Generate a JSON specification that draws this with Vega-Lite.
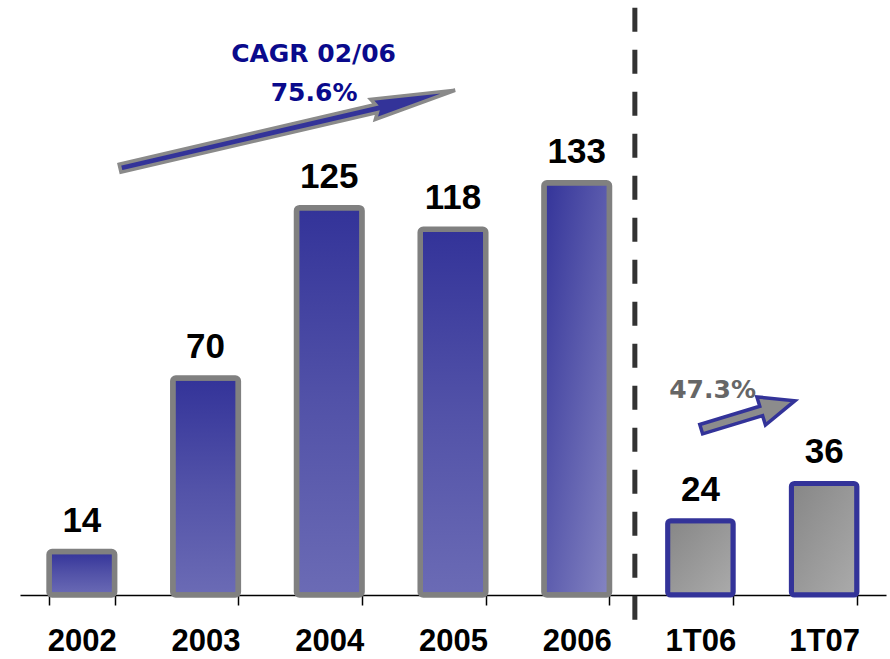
{
  "$schema": "https://vega.github.io/schema/vega-lite/v6.json",
  "width": 866,
  "height": 595,
  "autosize": "none",
  "padding": {"left": 20, "top": 0, "right": 4, "bottom": 64},
  "background": "#ffffff",
  "config": {"view": {"stroke": null}},
  "datasets": {
    "bars": [
      {"period": "2002", "value": 14, "kind": "year"},
      {"period": "2003", "value": 70, "kind": "year"},
      {"period": "2004", "value": 125, "kind": "year"},
      {"period": "2005", "value": 118, "kind": "year"},
      {"period": "2006", "value": 133, "kind": "last"},
      {"period": "1T06", "value": 24, "kind": "quarter"},
      {"period": "1T07", "value": 36, "kind": "quarter"}
    ],
    "divider": [{"pos": 4.97, "low": -8, "high": 190}],
    "arrows": [
      {"name": "cagr", "x": 2.163, "y": 150.3},
      {"name": "q", "x": 5.885, "y": 58.1}
    ],
    "notes": [
      {"label": "CAGR 02/06", "x": 2.373, "y": 171.9, "kind": "cagr"},
      {"label": "75.6%", "x": 2.377, "y": 159.4, "kind": "cagr"},
      {"label": "47.3%", "x": 5.598, "y": 63.5, "kind": "q"}
    ]
  },
  "layer": [
    {
      "layer": [
        {
          "data": {"name": "bars"},
          "transform": [{"filter": "datum.kind == 'year'"}],
          "mark": {
            "type": "bar",
            "cornerRadius": 3,
            "stroke": "#808080",
            "strokeWidth": 5.5,
            "fill": {"gradient": "linear", "x1": 0, "y1": 0, "x2": 0, "y2": 1,
              "stops": [{"offset": 0, "color": "#333399"}, {"offset": 0.5, "color": "#5252a8"}, {"offset": 1, "color": "#6b6bb5"}]}
          },
          "encoding": {
            "x": {"field": "period", "type": "nominal", "sort": null,
              "scale": {"type": "band", "domain": ["2002", "2003", "2004", "2005", "2006", "1T06", "1T07"], "paddingInner": 0.47, "paddingOuter": 0.235},
              "axis": {"title": null, "orient": "bottom", "labelAngle": 0, "tickBand": "extent", "grid": false,
                "domainColor": "#000000", "domainWidth": 1.5, "tickColor": "#000000", "tickWidth": 1.5, "tickSize": 10,
                "labelFont": "Liberation Sans", "labelFontSize": 31, "labelFontWeight": "bold", "labelColor": "#000000",
                "labelBaseline": "alphabetic", "labelPadding": 45}},
            "y": {"field": "value", "type": "quantitative", "scale": {"domain": [0, 192], "nice": false, "zero": true}, "axis": null}
          }
        },
        {
          "data": {"name": "bars"},
          "transform": [{"filter": "datum.kind == 'last'"}],
          "mark": {
            "type": "bar",
            "cornerRadius": 3,
            "stroke": "#808080",
            "strokeWidth": 5.5,
            "fill": {"gradient": "linear", "x1": 0, "y1": 0, "x2": 1, "y2": 1,
              "stops": [{"offset": 0, "color": "#333399"}, {"offset": 1, "color": "#8585c2"}]}
          },
          "encoding": {
            "x": {"field": "period", "type": "nominal", "sort": null},
            "y": {"field": "value", "type": "quantitative"}
          }
        },
        {
          "data": {"name": "bars"},
          "transform": [{"filter": "datum.kind == 'quarter'"}],
          "mark": {
            "type": "bar",
            "cornerRadius": 3,
            "stroke": "#333399",
            "strokeWidth": 5,
            "fill": {"gradient": "linear", "x1": 0, "y1": 0, "x2": 1, "y2": 1,
              "stops": [{"offset": 0, "color": "#868686"}, {"offset": 1, "color": "#ababab"}]}
          },
          "encoding": {
            "x": {"field": "period", "type": "nominal", "sort": null},
            "y": {"field": "value", "type": "quantitative"}
          }
        },
        {
          "data": {"name": "bars"},
          "mark": {"type": "text", "font": "Liberation Sans", "fontSize": 35, "fontWeight": "bold", "color": "#000000", "baseline": "alphabetic", "align": "center", "dy": -20},
          "encoding": {
            "x": {"field": "period", "type": "nominal", "sort": null},
            "y": {"field": "value", "type": "quantitative"},
            "text": {"field": "value", "type": "quantitative"}
          }
        }
      ]
    },
    {
      "layer": [
        {
          "data": {"name": "divider"},
          "mark": {"type": "rule", "color": "#333333", "strokeWidth": 5, "strokeDash": [24, 18]},
          "encoding": {
            "x": {"field": "pos", "type": "quantitative", "scale": {"domain": [0, 7], "nice": false, "zero": false}, "axis": null},
            "y": {"field": "low", "type": "quantitative"},
            "y2": {"field": "high"}
          }
        },
        {
          "data": {"name": "arrows"},
          "transform": [{"filter": "datum.name == 'cagr'"}],
          "mark": {"type": "point", "filled": true, "opacity": 1, "fill": "#333399", "stroke": "#8a8a8a", "strokeWidth": 3.5, "strokeJoin": "miter", "size": 118336, "angle": 346.9,
            "shape": "M -1 -0.024 L 0.53 -0.024 L 0.51 -0.06 L 1 0 L 0.51 0.06 L 0.53 0.024 L -1 0.024 Z"},
          "encoding": {
            "x": {"field": "x", "type": "quantitative", "axis": null},
            "y": {"field": "y", "type": "quantitative"}
          }
        },
        {
          "data": {"name": "arrows"},
          "transform": [{"filter": "datum.name == 'q'"}],
          "mark": {"type": "point", "filled": true, "opacity": 1, "fill": "#8c8c8c", "stroke": "#333399", "strokeWidth": 3.5, "size": 9600, "angle": 343.1,
            "shape": "M -1 -0.1 L 0.28 -0.1 L 0.28 -0.3 L 1 0 L 0.28 0.3 L 0.28 0.1 L -1 0.1 Z"},
          "encoding": {
            "x": {"field": "x", "type": "quantitative", "axis": null},
            "y": {"field": "y", "type": "quantitative"}
          }
        },
        {
          "data": {"name": "notes"},
          "mark": {"type": "text", "font": "DejaVu Sans", "fontSize": 25, "fontWeight": "bold", "baseline": "alphabetic", "align": "center"},
          "encoding": {
            "x": {"field": "x", "type": "quantitative", "axis": null},
            "y": {"field": "y", "type": "quantitative"},
            "text": {"field": "label", "type": "nominal"},
            "color": {"field": "kind", "type": "nominal", "scale": {"domain": ["cagr", "q"], "range": ["#0a0a8c", "#666666"]}, "legend": null}
          }
        }
      ]
    }
  ],
  "resolve": {"scale": {"x": "independent"}, "axis": {"x": "independent"}}
}
